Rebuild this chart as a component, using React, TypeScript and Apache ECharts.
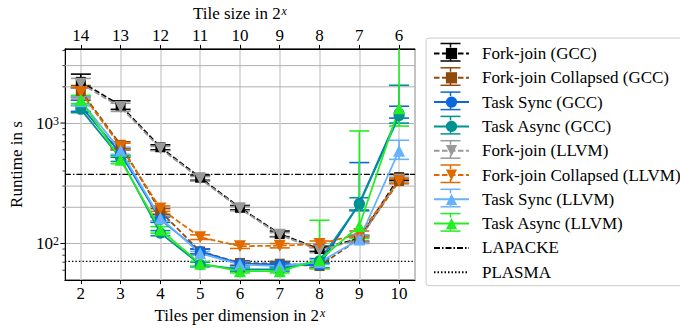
import React, { useEffect, useRef } from "react";
import * as echarts from "echarts";

const xs = [2, 3, 4, 5, 6, 7, 8, 9, 10];
const tileSizes = [14, 13, 12, 11, 10, 9, 8, 7, 6];

const forkJoinGCC = [2200, 1400, 630, 352, 198, 120, 90, 110, 355];
const forkJoinGCCLo = [1950, 1300, 600, 335, 190, 114, 86, 104, 335];
const forkJoinGCCHi = [2550, 1530, 660, 370, 207, 127, 95, 116, 375];

const forkJoinCollGCC = [1850, 660, 185, 86, 69, 68, 65, 110, 330];
const forkJoinCollGCCLo = [1650, 620, 175, 82, 66, 65, 62, 104, 315];
const forkJoinCollGCCHi = [2050, 700, 195, 90, 72, 71, 68, 117, 345];

const taskSyncGCC = [1380, 560, 158, 86, 68, 67, 66, 215, 1200];
const taskSyncGCCLo = [1250, 520, 150, 82, 65, 64, 63, 187, 1100];
const taskSyncGCCHi = [1550, 600, 166, 90, 71, 70, 69, 470, 1380];

const taskAsyncGCC = [1300, 510, 122, 67, 61, 61, 72, 212, 1150];
const taskAsyncGCCLo = [1220, 480, 116, 64, 59, 59, 69, 190, 1000];
const taskAsyncGCCHi = [1400, 540, 128, 70, 63, 63, 75, 240, 2060];

const forkJoinLLVM = [2120, 1360, 615, 345, 195, 118, 88, 108, 340];
const forkJoinLLVMLo = [1950, 1250, 590, 330, 187, 113, 84, 103, 325];
const forkJoinLLVMHi = [2350, 1460, 640, 360, 203, 123, 92, 113, 355];

const forkJoinCollLLVM = [1800, 640, 195, 113, 95, 96, 99, 120, 330];
const forkJoinCollLLVMLo = [1620, 600, 185, 108, 91, 92, 93, 113, 315];
const forkJoinCollLLVMHi = [1980, 680, 205, 118, 99, 100, 105, 127, 345];

const taskSyncLLVM = [1520, 590, 162, 83, 67, 65, 70, 108, 590];
const taskSyncLLVMLo = [1400, 550, 154, 80, 64, 62, 67, 100, 500];
const taskSyncLLVMHi = [1650, 630, 170, 86, 70, 68, 73, 118, 720];

const taskAsyncLLVM = [1560, 495, 130, 68, 59, 59, 73, 140, 1330];
const taskAsyncLLVMLo = [1450, 460, 122, 65, 57, 57, 62, 110, 945];
const taskAsyncLLVMHi = [1700, 530, 138, 71, 61, 61, 156, 860, 6000];

const lapackeValue = 375;
const plasmaValue = 71;

const majorYTicks = [100, 1000];
const minorYTicks = [60, 70, 80, 90, 200, 300, 400, 500, 600, 700, 800, 900, 2000, 3000, 4000];
const minorGridValues = [200, 300, 2000, 3000];

const X_MIN = 1.6;
const X_MAX = 10.4;
const Y_MIN = 49.7;
const Y_MAX = 4130;

const FONT = "Liberation Serif";
const FS = 17;

// legend layout
const LEG_LEFT = 426;
const LEG_TOP = 38;
const LEG_PAD_TOP = 7;
const LEG_PAD_LEFT = 7;
const LEG_ITEM_W = 35;
const LEG_ITEM_H = 14;
const LEG_PITCH = 24.3;
const LEG_GAP = 7.3;
const LEG_FIRST_CY = 52.5;

type SeriesDef = {
  name: string;
  values: number[];
  lo: number[];
  hi: number[];
  color: string;
  symbol: string;
  rotate: number;
  size: number;
  dashed: boolean;
};

const seriesDefs: SeriesDef[] = [
  { name: "Fork-join (GCC)", values: forkJoinGCC, lo: forkJoinGCCLo, hi: forkJoinGCCHi, color: "#000000", symbol: "rect", rotate: 0, size: 10, dashed: true },
  { name: "Fork-join Collapsed (GCC)", values: forkJoinCollGCC, lo: forkJoinCollGCCLo, hi: forkJoinCollGCCHi, color: "#8f4a0c", symbol: "rect", rotate: 0, size: 10, dashed: true },
  { name: "Task Sync (GCC)", values: taskSyncGCC, lo: taskSyncGCCLo, hi: taskSyncGCCHi, color: "#0a68dc", symbol: "circle", rotate: 0, size: 11, dashed: false },
  { name: "Task Async (GCC)", values: taskAsyncGCC, lo: taskAsyncGCCLo, hi: taskAsyncGCCHi, color: "#009191", symbol: "circle", rotate: 0, size: 11, dashed: false },
  { name: "Fork-join (LLVM)", values: forkJoinLLVM, lo: forkJoinLLVMLo, hi: forkJoinLLVMHi, color: "#999999", symbol: "triangle", rotate: 180, size: 12, dashed: true },
  { name: "Fork-join Collapsed (LLVM)", values: forkJoinCollLLVM, lo: forkJoinCollLLVMLo, hi: forkJoinCollLLVMHi, color: "#e06a00", symbol: "triangle", rotate: 180, size: 12, dashed: true },
  { name: "Task Sync (LLVM)", values: taskSyncLLVM, lo: taskSyncLLVMLo, hi: taskSyncLLVMHi, color: "#66b2ff", symbol: "triangle", rotate: 0, size: 12, dashed: false },
  { name: "Task Async (LLVM)", values: taskAsyncLLVM, lo: taskAsyncLLVMLo, hi: taskAsyncLLVMHi, color: "#22ee22", symbol: "triangle", rotate: 0, size: 12, dashed: false },
];

const supRich = {
  sup: { fontSize: 12, fontFamily: FONT, fontStyle: "italic", color: "#000", verticalAlign: "top", padding: [0, 0, 0, 1] },
  supn: { fontSize: 12, fontFamily: FONT, color: "#000", verticalAlign: "top" },
};

export default function App() {
  const ref = useRef<HTMLDivElement>(null);
  useEffect(() => {
    if (!ref.current) return;
    const chart = echarts.init(ref.current, undefined, { renderer: "svg" });

    const series: any[] = [];

    // y-axis ticks and minor gridlines
    series.push({
      type: "custom",
      name: "_ydecor",
      silent: true,
      z: 1,
      clip: false,
      data: [...majorYTicks.map((v) => [v, 1]), ...minorYTicks.map((v) => [v, 0])],
      encode: { y: 0 },
      renderItem: (params: any, api: any) => {
        const v = api.value(0);
        const major = api.value(1) === 1;
        const p = api.coord([X_MIN, v]);
        const q = api.coord([X_MAX, v]);
        const children: any[] = [
          {
            type: "line",
            shape: { x1: p[0] - (major ? 4.5 : 2.5), y1: p[1], x2: p[0], y2: p[1] },
            style: { stroke: "#000", lineWidth: major ? 1 : 0.8 },
          },
        ];
        if (minorGridValues.indexOf(v) >= 0) {
          children.push({
            type: "line",
            shape: { x1: p[0], y1: p[1], x2: q[0], y2: q[1] },
            style: { stroke: "#b0b0b0", lineWidth: 1 },
          });
        }
        return { type: "group", children };
      },
    });

    seriesDefs.forEach((s, idx) => {
      series.push({
        type: "custom",
        name: "_err" + idx,
        silent: true,
        z: 4,
        clip: true,
        data: xs.map((x, i) => [x, s.lo[i], s.hi[i]]),
        encode: { x: 0, y: [1, 2] },
        renderItem: (params: any, api: any) => {
          const x = api.value(0);
          const top = api.coord([x, api.value(2)]);
          const bot = api.coord([x, api.value(1)]);
          const cw = 10;
          const st = { stroke: s.color, lineWidth: 1.6 };
          return {
            type: "group",
            children: [
              { type: "line", shape: { x1: top[0], y1: top[1], x2: bot[0], y2: bot[1] }, style: st },
              { type: "line", shape: { x1: top[0] - cw, y1: top[1], x2: top[0] + cw, y2: top[1] }, style: st },
              { type: "line", shape: { x1: bot[0] - cw, y1: bot[1], x2: bot[0] + cw, y2: bot[1] }, style: st },
            ],
          };
        },
      });
      series.push({
        type: "line",
        name: s.name,
        data: xs.map((x, i) => [x, s.values[i]]),
        symbol: s.symbol,
        symbolSize: s.size,
        symbolRotate: s.rotate,
        showAllSymbol: true,
        lineStyle: { color: s.color, width: 1.8, type: s.dashed ? [5.5, 2.5] : "solid" },
        itemStyle: { color: s.color, borderWidth: 0 },
        z: 5,
      });
    });

    // reference lines
    series.push({
      type: "line",
      name: "LAPACKE",
      data: [[X_MIN, lapackeValue], [X_MAX, lapackeValue]],
      symbol: "none",
      lineStyle: { color: "#000", width: 1.2, type: [6, 2, 1.5, 2] },
      itemStyle: { color: "rgba(0,0,0,0)", borderWidth: 0 },
      z: 3,
    });
    series.push({
      type: "line",
      name: "PLASMA",
      data: [[X_MIN, plasmaValue], [X_MAX, plasmaValue]],
      symbol: "none",
      lineStyle: { color: "#000", width: 1.2, type: [1.5, 2] },
      itemStyle: { color: "rgba(0,0,0,0)", borderWidth: 0 },
      z: 3,
    });

    const legendNames = [...seriesDefs.map((s) => s.name), "LAPACKE", "PLASMA"];

    // errorbar caps in legend icons
    const capGraphics: any[] = [];
    seriesDefs.forEach((s, i) => {
      const cy = LEG_FIRST_CY + i * LEG_PITCH;
      const cx = LEG_LEFT + LEG_PAD_LEFT + LEG_ITEM_W / 2;
      const st = { stroke: s.color, lineWidth: 1.5 };
      capGraphics.push(
        { type: "line", z: 100, silent: true, shape: { x1: cx - 10, y1: cy - 9, x2: cx + 10, y2: cy - 9 }, style: st },
        { type: "line", z: 100, silent: true, shape: { x1: cx - 10, y1: cy + 8.5, x2: cx + 10, y2: cy + 8.5 }, style: st },
        { type: "line", z: 100, silent: true, shape: { x1: cx, y1: cy - 9, x2: cx, y2: cy - 5 }, style: st },
        { type: "line", z: 100, silent: true, shape: { x1: cx, y1: cy + 5, x2: cx, y2: cy + 8.5 }, style: st }
      );
    });

    chart.setOption({
      animation: false,
      textStyle: { fontFamily: FONT },
      grid: {
        left: 61,
        right: 265,
        top: 43,
        bottom: 46,
        show: true,
        borderColor: "#000",
        borderWidth: 1,
        backgroundColor: "transparent",
      },
      legend: {
        data: legendNames,
        orient: "vertical",
        left: LEG_LEFT,
        top: LEG_TOP,
        itemWidth: LEG_ITEM_W,
        itemHeight: LEG_ITEM_H,
        itemGap: LEG_GAP,
        padding: [LEG_PAD_TOP, 6, 5, LEG_PAD_LEFT],
        borderColor: "#cccccc",
        borderWidth: 1,
        borderRadius: 3,
        backgroundColor: "#fff",
        selectedMode: false,
        textStyle: { fontFamily: FONT, fontSize: FS, color: "#000", padding: [0, 0, 0, 8] },
      },
      graphic: capGraphics,
      xAxis: [
        {
          type: "value",
          position: "bottom",
          min: X_MIN,
          max: X_MAX,
          minInterval: 1,
          maxInterval: 1,
          name: "Tiles per dimension in 2{sup|x}",
          nameLocation: "middle",
          nameGap: 21,
          nameTextStyle: { fontFamily: FONT, fontSize: FS, color: "#000", rich: supRich },
          axisLine: { show: true, lineStyle: { color: "#000", width: 1 } },
          axisTick: { show: true, length: 4, lineStyle: { color: "#000" } },
          axisLabel: {
            fontFamily: FONT,
            fontSize: FS,
            color: "#000",
            margin: 5,
            showMinLabel: false,
            showMaxLabel: false,
            formatter: (v: number) => (xs.indexOf(v) >= 0 ? String(v) : ""),
          },
          splitLine: { show: true, lineStyle: { color: "#d5d5d5", width: 1.6 } },
        },
        {
          type: "value",
          position: "top",
          min: X_MIN,
          max: X_MAX,
          minInterval: 1,
          maxInterval: 1,
          name: "Tile size in 2{sup|x}",
          nameLocation: "middle",
          nameGap: 22,
          nameTextStyle: { fontFamily: FONT, fontSize: FS, color: "#000", rich: supRich },
          axisLine: { show: true, lineStyle: { color: "#000", width: 1 } },
          axisTick: { show: true, length: 4, lineStyle: { color: "#000" } },
          axisLabel: {
            fontFamily: FONT,
            fontSize: FS,
            color: "#000",
            margin: 5,
            showMinLabel: false,
            showMaxLabel: false,
            formatter: (v: number) => {
              const i = xs.indexOf(v);
              return i >= 0 ? String(tileSizes[i]) : "";
            },
          },
          splitLine: { show: false },
        },
      ],
      yAxis: {
        type: "log",
        logBase: 10,
        min: Y_MIN,
        max: Y_MAX,
        name: "Runtime in s",
        nameLocation: "middle",
        nameGap: 34,
        nameTextStyle: { fontFamily: FONT, fontSize: FS, color: "#000" },
        axisLine: { show: true, lineStyle: { color: "#000", width: 1 } },
        axisTick: { show: false },
        axisLabel: {
          fontFamily: FONT,
          fontSize: FS,
          color: "#000",
          margin: 6,
          showMinLabel: false,
          showMaxLabel: false,
          rich: supRich,
          formatter: (v: number) => {
            const e = Math.log10(v);
            if (Math.abs(e - Math.round(e)) < 1e-6) return "10{supn|" + Math.round(e) + "}";
            return "";
          },
        },
        splitLine: { show: true, lineStyle: { color: "#b0b0b0", width: 1 } },
      },
      series,
    });
    return () => chart.dispose();
  }, []);
  return (
    <div
      ref={ref}
      style={{ position: "absolute", left: 0, top: 0, width: 680, height: 329, background: "#fff" }}
    />
  );
}
